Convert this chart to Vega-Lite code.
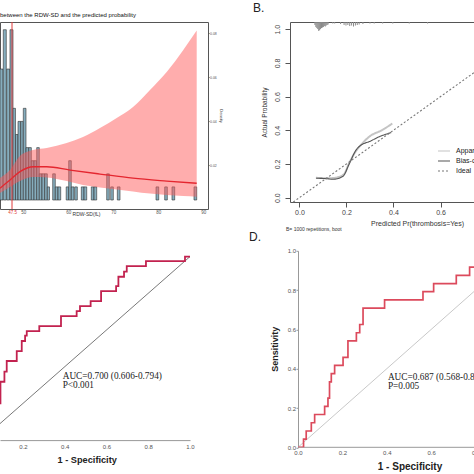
{
"$schema": "https://vega.github.io/schema/vega-lite/v6.json",
"autosize": {"type": "none"},
"padding": {"left": 0, "top": 22, "right": 474, "bottom": 452},
"background": "white",
"columns": 2,
"spacing": {"row": 31.8, "column": 36},
"bounds": "flush",
"align": "all",
"config": {
  "font": "Liberation Sans",
  "view": {"stroke": null},
  "axis": {"grid": false, "labelOverlap": false, "labelFlush": false, "tickCount": 12, "labelFont": "Liberation Sans", "titleFont": "Liberation Sans"},
  "title": {"font": "Liberation Sans"}
},
"datasets": {
  "hist": [
    {"lo":44.83,"hi":45.50,"n":10},{"lo":45.56,"hi":46.23,"n":13},{"lo":46.32,"hi":46.99,"n":10},{"lo":47.05,"hi":47.72,"n":13},
    {"lo":47.72,"hi":48.27,"n":7},{"lo":48.27,"hi":48.83,"n":5},{"lo":48.83,"hi":49.43,"n":6},{"lo":49.43,"hi":50.01,"n":6},
    {"lo":50.01,"hi":50.61,"n":7},{"lo":50.61,"hi":51.21,"n":4},{"lo":51.21,"hi":51.79,"n":4},{"lo":51.79,"hi":52.39,"n":3},
    {"lo":52.39,"hi":52.99,"n":3},{"lo":52.99,"hi":53.56,"n":4},{"lo":53.56,"hi":54.16,"n":2},{"lo":54.16,"hi":54.76,"n":2},
    {"lo":54.76,"hi":55.34,"n":2},{"lo":55.34,"hi":55.83,"n":1},{"lo":56.54,"hi":57.12,"n":2},{"lo":57.12,"hi":57.72,"n":1},
    {"lo":57.72,"hi":58.32,"n":1},{"lo":59.54,"hi":60.10,"n":1},{"lo":60.10,"hi":60.67,"n":3},{"lo":60.67,"hi":61.27,"n":1},
    {"lo":61.43,"hi":62.01,"n":1},{"lo":62.90,"hi":63.50,"n":1},{"lo":63.50,"hi":64.10,"n":1},{"lo":65.12,"hi":65.72,"n":1},
    {"lo":65.72,"hi":66.32,"n":1},{"lo":68.54,"hi":69.12,"n":2},{"lo":69.43,"hi":70.01,"n":1},{"lo":70.90,"hi":71.50,"n":1},
    {"lo":79.50,"hi":80.10,"n":1},{"lo":81.43,"hi":82.01,"n":1},{"lo":83.05,"hi":83.65,"n":1},{"lo":87.94,"hi":88.54,"n":1}
  ],
  "ci": [
    {"x":44.83,"lower":0.0073,"upper":0.0141},{"x":47.05,"lower":0.0100,"upper":0.0177},{"x":49.27,"lower":0.0127,"upper":0.0241},
    {"x":52.16,"lower":0.0145,"upper":0.0268},{"x":55.21,"lower":0.0143,"upper":0.0277},{"x":59.65,"lower":0.0127,"upper":0.0300},
    {"x":63.27,"lower":0.0109,"upper":0.0327},{"x":67.05,"lower":0.0098,"upper":0.0368},{"x":70.76,"lower":0.0089,"upper":0.0414},
    {"x":74.39,"lower":0.0080,"upper":0.0464},{"x":78.16,"lower":0.0070,"upper":0.0541},{"x":81.87,"lower":0.0064,"upper":0.0623},
    {"x":85.56,"lower":0.0059,"upper":0.0723},{"x":88.54,"lower":0.0056,"upper":0.0811}
  ],
  "spline": [
    {"x":44.83,"p":0.0094},{"x":47.05,"p":0.0132},{"x":49.27,"p":0.0170},{"x":52.23,"p":0.0192},{"x":55.21,"p":0.0192},
    {"x":60.39,"p":0.0177},{"x":67.05,"p":0.0159},{"x":74.39,"p":0.0140},{"x":81.87,"p":0.0127},{"x":88.54,"p":0.0117}
  ],
  "cut": [{"x":47.5}],
  "spikes": [
    {"p":0.066,"ybot":1.025},{"p":0.070,"ybot":1.013},{"p":0.074,"ybot":1.007},{"p":0.078,"ybot":1.001},{"p":0.082,"ybot":0.990},
    {"p":0.086,"ybot":0.994},{"p":0.090,"ybot":1.001},{"p":0.094,"ybot":1.007},{"p":0.098,"ybot":1.010},{"p":0.102,"ybot":1.013},
    {"p":0.106,"ybot":1.019},{"p":0.110,"ybot":1.016},{"p":0.114,"ybot":1.022},{"p":0.118,"ybot":1.025},{"p":0.122,"ybot":1.028},
    {"p":0.142,"ybot":1.034},{"p":0.150,"ybot":1.034},{"p":0.175,"ybot":1.031},{"p":0.190,"ybot":1.025},{"p":0.198,"ybot":1.022},
    {"p":0.206,"ybot":1.025},{"p":0.214,"ybot":1.019},{"p":0.222,"ybot":1.022},{"p":0.230,"ybot":1.016},{"p":0.238,"ybot":1.022},
    {"p":0.246,"ybot":1.025},{"p":0.254,"ybot":1.028},{"p":0.270,"ybot":1.031},{"p":0.300,"ybot":1.034},{"p":0.318,"ybot":1.034},
    {"p":0.354,"ybot":1.034},{"p":0.397,"ybot":1.034},{"p":0.467,"ybot":1.034},{"p":0.545,"ybot":1.034}
  ],
  "calib": [
    {"series":"Apparent","x":0.07,"y":0.118},{"series":"Apparent","x":0.12,"y":0.115},{"series":"Apparent","x":0.16,"y":0.12},
    {"series":"Apparent","x":0.19,"y":0.14},{"series":"Apparent","x":0.21,"y":0.20},{"series":"Apparent","x":0.235,"y":0.265},
    {"series":"Apparent","x":0.26,"y":0.31},{"series":"Apparent","x":0.30,"y":0.365},{"series":"Apparent","x":0.35,"y":0.40},
    {"series":"Apparent","x":0.395,"y":0.44},
    {"series":"Bias-corrected","x":0.071,"y":0.115},{"series":"Bias-corrected","x":0.113,"y":0.113},{"series":"Bias-corrected","x":0.142,"y":0.109},
    {"series":"Bias-corrected","x":0.184,"y":0.125},{"series":"Bias-corrected","x":0.213,"y":0.204},{"series":"Bias-corrected","x":0.241,"y":0.283},
    {"series":"Bias-corrected","x":0.263,"y":0.313},{"series":"Bias-corrected","x":0.298,"y":0.333},{"series":"Bias-corrected","x":0.34,"y":0.362},
    {"series":"Bias-corrected","x":0.39,"y":0.386},
    {"series":"Ideal","x":-0.026,"y":-0.026},{"series":"Ideal","x":1.04,"y":1.04}
  ],
  "bnote": [{"label":"B= 1000 repetitions, boot"}],
  "rocC": [
    {"x":0.0,"y":0.0},{"x":0.02,"y":0.06},{"x":0.04,"y":0.11},{"x":0.06,"y":0.16},{"x":0.075,"y":0.2},
    {"x":0.092,"y":0.318},{"x":0.111,"y":0.373},{"x":0.122,"y":0.431},{"x":0.170,"y":0.485},{"x":0.194,"y":0.540},
    {"x":0.210,"y":0.569},{"x":0.218,"y":0.594},{"x":0.278,"y":0.621},{"x":0.382,"y":0.676},{"x":0.457,"y":0.703},
    {"x":0.473,"y":0.730},{"x":0.524,"y":0.757},{"x":0.574,"y":0.812},{"x":0.646,"y":0.839},{"x":0.657,"y":0.890},
    {"x":0.684,"y":0.918},{"x":0.697,"y":0.948},{"x":0.789,"y":0.975},{"x":0.976,"y":1.0},{"x":1.0,"y":1.0}
  ],
  "aucC": [{"label":"AUC=0.700 (0.606-0.794)\nP<0.001"}],
  "rocD": [
    {"x":0.0,"y":0.0},{"x":0.025,"y":0.042},{"x":0.037,"y":0.083},{"x":0.06,"y":0.125},{"x":0.075,"y":0.167},
    {"x":0.12,"y":0.208},{"x":0.135,"y":0.25},{"x":0.142,"y":0.333},{"x":0.15,"y":0.375},{"x":0.165,"y":0.417},
    {"x":0.203,"y":0.458},{"x":0.225,"y":0.542},{"x":0.263,"y":0.583},{"x":0.278,"y":0.625},{"x":0.293,"y":0.708},
    {"x":0.39,"y":0.75},{"x":0.563,"y":0.792},{"x":0.611,"y":0.833},{"x":0.713,"y":0.875},{"x":0.773,"y":0.917},
    {"x":0.85,"y":0.958},{"x":0.93,"y":1.0},{"x":1.0,"y":1.0}
  ],
  "aucD": [{"label":"AUC=0.687 (0.568-0.806)\nP=0.005"}],
  "diag": [{"x":0,"y":0},{"x":1,"y":1}]
},
"concat": [
  {
    "width": 208, "height": 187,
    "view": {"stroke": "#555", "strokeWidth": 1},
    "title": {"text": "between the RDW-SD and the predicted probability", "anchor": "start", "frame": "group", "fontSize": 6, "fontWeight": "normal", "color": "#111", "offset": 4},
    "resolve": {"scale": {"y": "independent"}, "axis": {"y": "independent"}},
    "layer": [
      {"data": {"name": "hist"},
       "mark": {"type": "rect", "fill": "#86adbd", "stroke": "#303030", "strokeWidth": 0.6},
       "encoding": {
         "x": {"field": "lo", "type": "quantitative", "scale": {"domain": [44.83, 91.05], "nice": false, "zero": false},
               "axis": {"values": [47.5, 50, 60, 70, 80, 90], "tickCount": 12, "labelExpr": "datum.value < 49 ? '47.5' : format(datum.value, 'd')",
                        "labelFontSize": 4.5, "labelColor": {"condition": {"test": "datum.value < 49", "value": "#e03a3a"}, "value": "#555"},
                        "ticks": false, "labelPadding": 0, "domain": false, "labelOverlap": false,
                        "title": "RDW-SD(fL)", "titleFontSize": 5, "titleFontWeight": "normal", "titleColor": "#333",
                        "titleX": 86, "titleY": 4, "titleBaseline": "middle"}},
         "x2": {"field": "hi"},
         "y": {"field": "n", "type": "quantitative", "scale": {"domain": [-0.687, 13.59], "nice": false, "zero": false}, "axis": null},
         "y2": {"datum": 0}
       }},
      {"data": {"name": "hist"},
       "mark": {"type": "rule", "color": "#333", "strokeWidth": 1},
       "encoding": {
         "x": {"aggregate": "min", "field": "lo", "type": "quantitative"},
         "x2": {"aggregate": "max", "field": "hi"},
         "y": {"aggregate": "min", "field": "zero", "type": "quantitative", "scale": {"domain": [-0.687, 13.59], "nice": false, "zero": false}, "axis": null}
       }},
      {"data": {"name": "ci"},
       "mark": {"type": "area", "color": "#ff5c5c", "opacity": 0.5, "interpolate": "monotone"},
       "encoding": {
         "x": {"field": "x", "type": "quantitative"},
         "y": {"field": "lower", "type": "quantitative", "scale": {"domain": [0, 0.085], "nice": false, "zero": false}, "axis": null},
         "y2": {"field": "upper"}
       }},
      {"data": {"name": "spline"},
       "mark": {"type": "line", "color": "#e4262f", "strokeWidth": 1.3, "interpolate": "monotone"},
       "encoding": {
         "x": {"field": "x", "type": "quantitative"},
         "y": {"field": "p", "type": "quantitative", "scale": {"domain": [0, 0.085], "nice": false, "zero": false},
               "axis": {"orient": "right", "values": [0.02, 0.04, 0.06, 0.08], "tickCount": 12, "format": ".2f", "labelFontSize": 3.5, "labelColor": "#555",
                        "tickSize": 1, "tickColor": "#555", "labelPadding": 0.5, "domain": false, "labelOverlap": false,
                        "title": "Density", "titleFontSize": 4, "titleFontWeight": "normal", "titleColor": "#333", "titleAngle": 90, "titlePadding": 2}}
       }},
      {"data": {"name": "cut"},
       "mark": {"type": "rule", "color": "#e03a3a", "strokeWidth": 1},
       "encoding": {"x": {"field": "x", "type": "quantitative"}}}
    ]
  },
  {
    "width": 254, "height": 180,
    "view": {"stroke": "#555", "strokeWidth": 1},
    "title": {"text": "B.", "anchor": "start", "frame": "group", "fontSize": 12, "fontWeight": "normal", "color": "#222", "dx": -37, "offset": 5},
    "layer": [
      {"data": {"name": "spikes"},
       "mark": {"type": "rule", "color": "#8a8a8a", "strokeWidth": 1},
       "encoding": {
         "x": {"field": "p", "type": "quantitative", "scale": {"domain": [-0.04, 1.04], "nice": false, "zero": false},
               "axis": {"values": [0, 0.2, 0.4, 0.6, 0.8, 1.0], "tickCount": 12, "format": ".1f", "labelFontSize": 7, "labelColor": "#444",
                        "tickSize": 5, "tickColor": "#555", "labelPadding": 1, "domain": false, "labelOverlap": false,
                        "title": "Predicted Pr(thrombosis=Yes)", "titleFontSize": 7, "titleFontWeight": "normal", "titleColor": "#333", "titlePadding": 4}},
         "y": {"field": "ybot", "type": "quantitative", "scale": {"domain": [-0.026, 1.043], "nice": false, "zero": false},
               "axis": {"values": [0, 0.2, 0.4, 0.6, 0.8, 1.0], "tickCount": 12, "format": ".1f", "labelAngle": 270, "labelAlign": "center", "labelBaseline": "bottom",
                        "labelFontSize": 7, "labelColor": "#444", "tickSize": 5, "tickColor": "#555", "labelPadding": 5, "domain": false,
                        "labelOverlap": false, "labelBound": false,
                        "title": "Actual Probability", "titleFontSize": 6.5, "titleFontWeight": "normal", "titleColor": "#333", "titlePadding": 6}},
         "y2": {"datum": 1.043}
       }},
      {"data": {"name": "calib"},
       "transform": [{"filter": "datum.series === 'Apparent'"}],
       "mark": {"type": "line", "interpolate": "monotone", "strokeWidth": 2},
       "encoding": {
         "x": {"field": "x", "type": "quantitative"},
         "y": {"field": "y", "type": "quantitative"},
         "color": {"field": "series", "type": "nominal",
                   "scale": {"domain": ["Apparent", "Bias-corrected", "Ideal"], "range": ["#c4c4c4", "#555555", "#777777"]},
                   "legend": {"title": null, "orient": "none", "legendX": 437, "legendY": 122, "symbolType": "stroke", "symbolSize": 144,
                              "symbolStrokeWidth": 1.2, "labelFontSize": 7, "labelColor": "#222", "labelOffset": 5, "rowPadding": -8, "padding": 0}},
         "strokeDash": {"field": "series", "type": "nominal",
                        "scale": {"domain": ["Apparent", "Bias-corrected", "Ideal"], "range": [[1, 0], [1, 0], [2, 2]]}}
       }},
      {"data": {"name": "calib"},
       "transform": [{"filter": "datum.series !== 'Apparent'"}],
       "mark": {"type": "line", "interpolate": "monotone", "strokeWidth": 1.1},
       "encoding": {
         "x": {"field": "x", "type": "quantitative"},
         "y": {"field": "y", "type": "quantitative"},
         "color": {"field": "series", "type": "nominal"},
         "strokeDash": {"field": "series", "type": "nominal"}
       }},
      {"data": {"name": "bnote"},
       "mark": {"type": "text", "align": "left", "baseline": "middle", "fontSize": 5, "color": "#333", "clip": false},
       "encoding": {"x": {"datum": -0.057}, "y": {"datum": -0.186}, "text": {"field": "label"}}}
    ]
  },
  {
    "width": 190, "height": 189.3,
    "layer": [
      {"data": {"name": "diag"},
       "mark": {"type": "line", "color": "#555", "strokeWidth": 0.8, "clip": true},
       "encoding": {
         "x": {"field": "x", "type": "quantitative", "scale": {"domain": [0.0898, 1.0], "nice": false, "zero": false},
               "axis": {"values": [0.2, 0.4, 0.6, 0.8, 1.0], "tickCount": 12, "format": ".1f", "labelFontSize": 6, "labelColor": "#555", "ticks": false,
                        "labelPadding": 3, "domainColor": "#999", "labelOverlap": false,
                        "title": "1 - Specificity", "titleFontSize": 9.2, "titleFontWeight": "bold", "titleColor": "#222",
                        "titleX": 86.7, "titleY": 19.3, "titleBaseline": "middle"}},
         "y": {"field": "y", "type": "quantitative", "scale": {"domain": [0, 1.0315], "nice": false, "zero": false}, "axis": null}
       }},
      {"data": {"name": "rocC"},
       "mark": {"type": "line", "interpolate": "step-after", "color": "#c2224f", "strokeWidth": 1.8, "clip": true},
       "encoding": {"x": {"field": "x", "type": "quantitative"}, "y": {"field": "y", "type": "quantitative"}}},
      {"data": {"name": "aucC"},
       "mark": {"type": "text", "align": "left", "baseline": "top", "font": "Liberation Serif", "fontSize": 9.3, "color": "#222", "lineBreak": "\n", "lineHeight": 9},
       "encoding": {"x": {"datum": 0.39}, "y": {"datum": 0.37}, "text": {"field": "label"}}}
    ]
  },
  {
    "width": 230, "height": 196.5,
    "title": {"text": "D.", "anchor": "start", "frame": "group", "fontSize": 12, "fontWeight": "normal", "color": "#222", "dx": -41, "offset": 3.5},
    "layer": [
      {"data": {"name": "diag"},
       "mark": {"type": "line", "color": "#c8c8c8", "strokeWidth": 1, "clip": true},
       "encoding": {
         "x": {"field": "x", "type": "quantitative", "scale": {"domain": [-0.036, 1.0], "nice": false, "zero": false},
               "axis": {"values": [0, 0.2, 0.4, 0.6, 0.8, 1.0], "tickCount": 12, "format": ".1f", "labelFontSize": 6, "labelColor": "#555", "ticks": false,
                        "labelPadding": 2, "domain": false, "labelOverlap": false,
                        "title": "1 - Specificity", "titleFontSize": 10, "titleFontWeight": "bold", "titleColor": "#222",
                        "titleX": 119.5, "titleY": 19, "titleBaseline": "middle"}},
         "y": {"field": "y", "type": "quantitative", "scale": {"domain": [0, 1], "nice": false, "zero": false},
               "axis": {"values": [0, 0.2, 0.4, 0.6, 0.8, 1.0], "tickCount": 12, "format": ".1f", "offset": -8, "labelFontSize": 6, "labelColor": "#555",
                        "tickSize": 2, "tickColor": "#999", "domainColor": "#999", "labelPadding": 0.5, "labelOverlap": false,
                        "title": "Sensitivity", "titleFontSize": 9, "titleFontWeight": "bold", "titleColor": "#222", "titleAngle": 270,
                        "titleX": -24, "titleY": 98, "titleBaseline": "middle", "titleAlign": "center"}}
       }},
      {"data": {"name": "diag"},
       "mark": {"type": "rule", "color": "#999", "strokeWidth": 1},
       "encoding": {"x": {"aggregate": "min", "field": "x", "type": "quantitative"}, "x2": {"aggregate": "max", "field": "x"}, "y": {"aggregate": "min", "field": "y", "type": "quantitative"}}},
      {"data": {"name": "rocD"},
       "mark": {"type": "line", "interpolate": "step-after", "color": "#dc4a5c", "strokeWidth": 1.7, "clip": true},
       "encoding": {"x": {"field": "x", "type": "quantitative"}, "y": {"field": "y", "type": "quantitative"}}},
      {"data": {"name": "aucD"},
       "mark": {"type": "text", "align": "left", "baseline": "top", "font": "Liberation Serif", "fontSize": 9.3, "color": "#222", "lineBreak": "\n", "lineHeight": 9},
       "encoding": {"x": {"datum": 0.405}, "y": {"datum": 0.38}, "text": {"field": "label"}}}
    ]
  }
]
}
